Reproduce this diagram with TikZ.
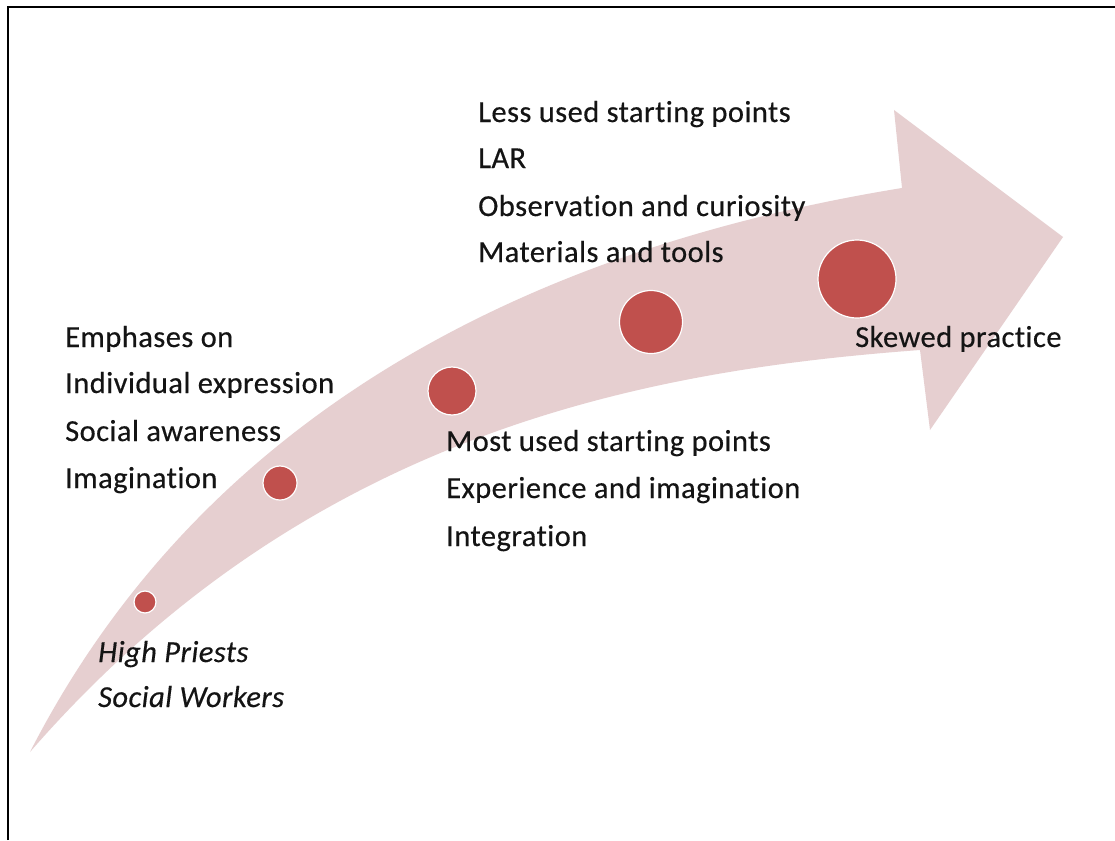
\documentclass[tikz,border=0pt]{standalone}
\usepackage{fontspec}
\setmainfont[LetterSpace=1.5,FakeBold=0.4,Ligatures=NoCommon,ItalicFeatures={FakeBold=0.4}]{Carlito}
\usepackage{tikz}
\usetikzlibrary{positioning}
\definecolor{dotred}{RGB}{192,80,77}
\definecolor{bandpink}{RGB}{230,207,208}
\definecolor{inkblack}{RGB}{20,20,20}

\begin{document}
\begin{tikzpicture}[
    x=1pt, y=-1pt,
    txt/.style={anchor=base west, inner sep=0pt, text=inkblack, font=\fontsize{30.5}{35}\selectfont},
    itxt/.style={txt, font=\fontsize{30.5}{35}\selectfont\itshape},
    dot/.style={circle, fill=dotred, draw=white, line width=1.2pt, inner sep=0pt},
    band/.style={fill=bandpink}
]
\useasboundingbox (0,0) rectangle (1115,840);
\fill[white] (0,0) rectangle (1115,840);
\draw[line width=2.5pt] (8,840) -- (8,7) -- (1115,7);
\fill[band] (30,752) .. controls (200,420) and (520,250) .. (902,188)
    -- (894,110) -- (1063,237) -- (930,430) -- (920,350)
    .. controls (650,370) and (310,430) .. (30,752) -- cycle;
\node[dot, minimum size=22pt] (d1) at (145,602) {};
\node[dot, minimum size=34pt] (d2) at (280,483) {};
\node[dot, minimum size=48pt] (d3) at (452,391) {};
\node[dot, minimum size=63pt] (d4) at (651,322) {};
\node[dot, minimum size=78pt] (d5) at (857,279) {};
\node[txt] (less1) at (478,122) {Less used starting points};
\node[txt] (less2) at (478,168) {LAR};
\node[txt] (less3) at (478,216) {Observation and curiosity};
\node[txt] (less4) at (478,262) {Materials and tools};
\node[txt] (emph1) at (65,347) {Emphases on};
\node[txt] (emph2) at (65,393) {Individual expression};
\node[txt] (emph3) at (65,441) {Social awareness};
\node[txt] (emph4) at (65,488) {Imagination};
\node[txt] (most1) at (446,451) {Most used starting points};
\node[txt] (most2) at (446,498) {Experience and imagination};
\node[txt] (most3) at (446,546) {Integration};
\node[txt] (skew) at (855,347) {Skewed practice};
\node[itxt] (high1) at (98,662) {High Priests};
\node[itxt] (high2) at (98,707) {Social Workers};
\end{tikzpicture}
\end{document}
